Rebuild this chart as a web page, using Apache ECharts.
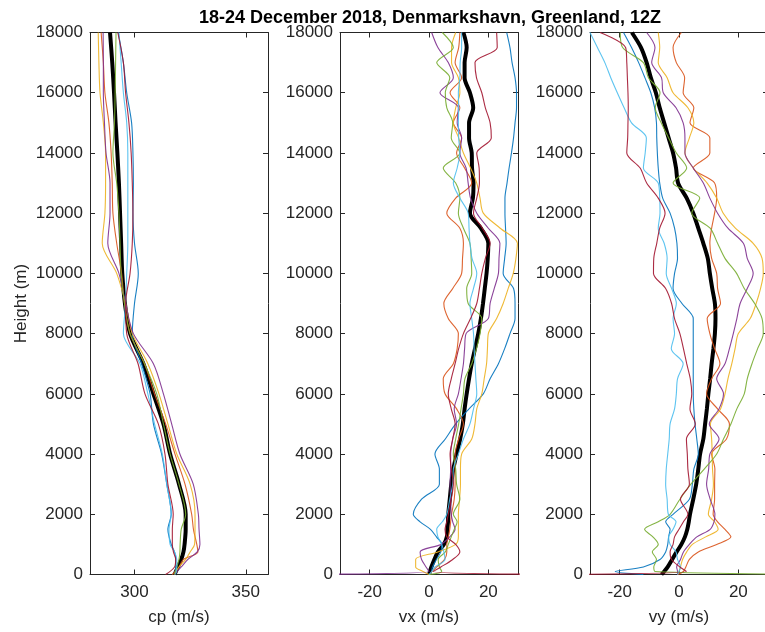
<!DOCTYPE html>
<html>
<head>
<meta charset="utf-8">
<script src="https://cdn.jsdelivr.net/npm/echarts@6/dist/echarts.min.js"></script>
<style>html,body{margin:0;padding:0;background:#fff}#c{width:765px;height:632px}</style>
</head>
<body>
<div id="c"></div>
<script>
// ---------- data ----------
const titleText = '18-24 December 2018, Denmarkshavn, Greenland, 12Z';
const colors = ['#0072BD','#D95319','#EDB120','#7E2F8E','#77AC30','#4DBEEE','#A2142F'];
const heightTicks = [0,2000,4000,6000,8000,10000,12000,14000,16000,18000];
const cpTicks = [300, 350];
const vTicks = [-20, 0, 20];

const heightsCp = [0,250,500,750,1000,1500,2000,3000,4000,5000,6000,7000,8000,9000,10000,11000,12000,13000,14000,15000,16000,17000,18000];
const cpMean      = [318,319.5,321,322,322.5,323,323,320,316,313,308.5,304,298,295.7,294.5,294,293.5,293,292.3,291.5,290.8,290,289];
const cpBlue      = [318,318.5,318.5,318,316.5,315,316.5,314.5,312.2,308.5,307,303.2,299,300,301.7,300,299.3,299.5,299.3,298.7,296.5,295,292.7];
const cpOrange    = [317,320,322,328.5,328,326.5,325.7,322.7,318.2,314,309,304.5,298,295.5,294.2,292,290.3,290,289.5,288.5,286.7,286,285];
const cpYellow    = [318,320,323,325,327,327.2,327.2,325,319,315,311,306,299,296,292,285.5,286.7,287,287,286,284.5,284,283.7];
const cpPurple    = [318,321,324,328.2,329.4,329,328.7,326.4,320.4,316.7,313,308.5,299.5,296,293,288,289,289,287.2,286.5,286,286,285.9];
const cpGreen     = [318,319,320,320.4,320.5,321,323,320,316,313,310,304.5,298,295.5,294,293.5,293,292,290.3,291,291.3,291.5,291.7];
const cpLightBlue = [318.5,319,319,318,316,315.5,316.5,314.5,312.5,309,306,302.5,295,296,296.5,297,297,297,297,296.5,295,294,293];
const cpRed       = [314,318,318.5,317.5,317,317,317.4,315,313.7,310.7,304.7,301.6,296.5,296,298,299,299.3,299,298.5,297.5,296,295,292.5];

const heightsV = [0,100,250,500,750,1000,1250,1500,1750,2000,2500,3000,3500,4000,4500,5000,5500,6000,6500,7000,7500,8000,8500,9000,9500,10000,10500,11000,11500,12000,12500,13000,13500,14000,14500,15000,15500,16000,16500,17000,17500,18000];
const vxMean      = [0,0.3,0.8,1.8,3,5,6,6.2,6.4,6.5,7,7.5,8.2,9.3,10.5,11.4,12,12.7,13.5,14.4,15.5,16.6,17.5,18.2,18.8,19.4,19.8,20,17.5,13.8,14.8,15,14.5,14.4,13.5,13.5,14.9,13.8,12,12,12.7,11.6];
const vxBlue      = [0.3,0.8,1.2,2.5,4,4.3,2.5,0.5,-3,-5.3,-2.5,3.5,3.5,2,5.5,9,13.5,18.3,20.6,23.4,25.5,27.3,29,29,28.5,25,25.5,26,25.8,25.6,25.6,26.3,27,27.8,28.5,29,29.5,29.5,29,28,27.3,26.2];
const vxOrange    = [0.3,1,2.6,5.2,6,6,6.5,7,7.3,7.6,8.5,8.8,8.8,8.8,10,11.6,9.3,5.4,4.8,8.2,9.5,9.9,6.5,5,8,11,11.3,11.6,10.4,6,9,14.4,12,9.3,11,8.2,10.4,7.1,11,8.8,10,10.4];
const vxYellow    = [0,-2,-4.5,-4.5,3,9,9.9,9.9,9.9,9.9,10.3,10.6,10.6,11,14.4,15.5,16.1,17.8,18.6,19.4,19.7,20,22.8,25,26.7,28.4,29.3,29.8,24,18.3,17.2,16.1,14,11.6,10,8.2,9,10.4,9.9,7.6,7.6,9];
const vxPurple    = [-45,0,-1,-2.5,-3,4,7,8.8,8,7.5,7.3,7.1,7.3,7.3,8,9.3,8.5,9.9,10.8,11.6,12,12.5,20,20.6,22,23.4,23.6,23.9,20,16.1,14,13.2,12.5,10.4,11,9.5,9.9,3.7,8.2,6.5,3,0.9];
const vxGreen     = [0,4.3,3.5,3.1,5.5,6.5,7.5,8.5,9.5,8.2,10.4,9.3,9,8.2,9,10,10.8,11.6,12.1,14.4,16,17.2,17.8,13.2,12.7,14.4,14.2,13.8,11.6,9.9,10.4,9,4.8,10.4,7.5,8,6,5.5,7,2.6,8.2,4.5];
const vxLightBlue = [0,1,2,5.4,5,4.3,3,2.6,4.5,6,7,8,8.2,9.9,11.6,13.8,15,16.1,15.8,15.5,15.2,15,14.4,13.8,15,16.1,14.5,13.8,13.5,13.2,10.4,8.2,9.5,10.4,10,9.9,10,9.9,10.4,10.5,11,11];
const vxRed       = [45,1.4,4,8,10.4,9,6,5.4,6,6.5,7.5,8.2,7.5,7.1,8,8.8,7.5,6.5,7.5,8.8,10,11.6,14,16.1,17,17.8,19,20.6,18,15,16.1,17,16.9,16.1,21,20.6,19,17.8,16,15.5,23,22.8];

const vyMean      = [-5.9,-5,-3.8,-2.3,-0.8,0.8,2,2.8,3.3,3.7,4.8,5.8,6.5,7.1,8.2,8.8,9.4,9.9,10.5,11,11.6,12.1,12.3,12.1,11.2,10.4,9.7,8.2,6.5,4.8,2.6,-0.3,-1,-2,-3.5,-5,-6.5,-7.8,-9.5,-10.9,-12.8,-15.9];
const vyBlue      = [-12,-21.5,-12,-6.4,-4.5,-3.8,-3.5,-3,-4.5,-2,3.5,4.5,5,6.5,6,5.4,5,4.8,4.8,4.8,4.8,4.8,4.8,1,-2,-1.5,-0.5,-0.7,-1.5,-3,-5.5,-6.5,-7,-7.3,-7.5,-7.6,-8.2,-9.5,-11.5,-13.6,-16,-18.7];
const vyOrange    = [-0.5,1.5,2.3,3.5,6.5,12.7,17.5,15.5,13,11.5,12,12,12.1,11,16,17,13,9.3,11,13.8,12,10.4,9.5,14,13,12.7,11,10.4,11,12,12.7,12,4.8,10.4,10.4,3.7,5,1.4,1.9,-0.9,-2,0.8];
const vyYellow    = [-0.5,0,0.5,1.2,2.6,4.5,9,13.2,12,9.9,11,11.6,11.3,11.2,11,10.6,14,15.5,16.5,17.8,18.9,20,24,26,27.5,28.4,28,25,19,14.9,12.7,9.5,4.8,2,3.5,5,3,-2,-4,-7,-6.5,-7];
const vyPurple    = [-0.5,-0.5,-0.8,0.5,1.5,3.5,6,10.5,11.8,12.1,10.5,9.3,10,10.4,13.5,10.2,13.5,15,12.7,15.5,17,18.3,19.5,20.6,23,25,23,21.7,16.5,13,10.4,8.2,4.8,2,2,1.4,-1,-5.3,-5.9,-9.2,-8.1,-10.9];
const vyGreen     = [45,-8,-8.5,-7.6,-9,-7,-8.8,-11.6,-7,-3,0.3,4,8.5,12.7,15,17.5,19.5,22,23,24.6,26.5,28.4,28,25.5,22,19.4,15.5,13,10.5,4.3,7,-2,2.6,-0.9,-3.5,-6,-8,-6.4,-10.3,-12,-19,-19.8];
const vyLightBlue = [-0.5,0,0.5,-0.5,-1,-3,-3.5,-2,-1,-3.6,-4,-4.5,-4.3,-3.8,-3.3,-3,-1.5,-0.9,-0.5,1.4,-2.6,-1.5,-2,-0.9,-2.5,-4.3,-4,-5,-7,-6.4,-6.5,-7,-12,-11.4,-11,-16,-18.5,-20.8,-23,-25,-27.5,-30];
const vyRed       = [-45,2.5,0.3,-2.5,-3,-2,-1.5,0,1.5,3,0.5,3.5,3,2.8,2.5,5.5,3.7,4.3,3.8,2.6,1.5,0.3,-1.5,-2.5,-4.5,-8.6,-8.5,-7.5,-6.5,-4.7,-7,-10.9,-13.1,-17.6,-17.3,-17.2,-17.1,-17.2,-17.4,-17.6,-18,-26.6];

// ---------- chart ----------
const FONT = 'Liberation Sans, Arial, Helvetica, sans-serif';
const AX = '#262626';
const gridLefts = [90, 340, 590];
const panels = [
  {name:'cp (m/s)', min:280, max:360, ticks:cpTicks, heights:heightsCp, mean:cpMean,
   lines:[cpBlue,cpOrange,cpYellow,cpPurple,cpGreen,cpLightBlue,cpRed]},
  {name:'vx (m/s)', min:-30, max:30, ticks:vTicks, heights:heightsV, mean:vxMean,
   lines:[vxBlue,vxOrange,vxYellow,vxPurple,vxGreen,vxLightBlue,vxRed]},
  {name:'vy (m/s)', min:-30, max:30, ticks:vTicks, heights:heightsV, mean:vyMean,
   lines:[vyBlue,vyOrange,vyYellow,vyPurple,vyGreen,vyLightBlue,vyRed]}
];

const grid = [], xAxis = [], yAxis = [], series = [];
panels.forEach((p, i) => {
  grid.push({left: gridLefts[i], top: 32.5, width: 178, height: 542, containLabel: false, outerBoundsMode: 'none'});
  const lineStyle = {color: AX, width: 1};
  xAxis.push({
    gridIndex: i, type: 'value', min: p.min, max: p.max, position: 'bottom',
    axisLine: {show: true, onZero: false, lineStyle},
    axisTick: {show: true, inside: true, length: 5, customValues: p.ticks, lineStyle},
    axisLabel: {customValues: p.ticks, color: AX, fontSize: 17, fontFamily: FONT, margin: 9,
                formatter: v => String(v)},
    splitLine: {show: false},
    name: p.name, nameLocation: 'middle', nameGap: 34,
    nameTextStyle: {color: AX, fontSize: 17, fontFamily: FONT}
  });
  xAxis.push({
    gridIndex: i, type: 'value', min: p.min, max: p.max, position: 'top',
    axisLine: {show: true, onZero: false, lineStyle},
    axisTick: {show: true, inside: true, length: 5, customValues: p.ticks, lineStyle},
    axisLabel: {show: false}, splitLine: {show: false}
  });
  const yl = {
    gridIndex: i, type: 'value', min: 0, max: 18000, position: 'left',
    axisLine: {show: true, onZero: false, lineStyle},
    axisTick: {show: true, inside: true, length: 5, customValues: heightTicks, lineStyle},
    axisLabel: {customValues: heightTicks, color: AX, fontSize: 17, fontFamily: FONT, margin: 7,
                formatter: v => String(v)},
    splitLine: {show: false}
  };
  if (i === 0) {
    yl.name = 'Height (m)'; yl.nameLocation = 'middle'; yl.nameGap = 60;
    yl.nameTextStyle = {color: AX, fontSize: 17, fontFamily: FONT};
  }
  yAxis.push(yl);
  yAxis.push({
    gridIndex: i, type: 'value', min: 0, max: 18000, position: 'right',
    axisLine: {show: true, onZero: false, lineStyle},
    axisTick: {show: true, inside: true, length: 5, customValues: heightTicks, lineStyle},
    axisLabel: {show: false}, splitLine: {show: false}
  });
  const xi = i * 2, yi = i * 2;
  series.push({
    type: 'line', xAxisIndex: xi, yAxisIndex: yi, showSymbol: false, silent: true, clip: true,
    smooth: 0.3,
    data: p.heights.map((h, k) => [p.mean[k], h]),
    lineStyle: {color: '#000', width: 4}, z: 2
  });
  p.lines.forEach((vals, j) => {
    series.push({
      type: 'line', xAxisIndex: xi, yAxisIndex: yi, showSymbol: false, silent: true, clip: true,
      smooth: 0.3,
      data: p.heights.map((h, k) => [vals[k], h]),
      lineStyle: {color: colors[j], width: 1.1, opacity: 0.9}, z: 3
    });
  });
});

const chart = echarts.init(document.getElementById('c'), null, {renderer: 'canvas'});
chart.setOption({
  animation: false,
  backgroundColor: '#fff',
  grid, xAxis, yAxis, series,
  graphic: [{
    type: 'text', x: 430, y: 18,
    style: {text: titleText, textAlign: 'center', textVerticalAlign: 'middle',
            font: 'bold 18px ' + FONT, fill: '#000'}
  }]
});
</script>
</body>
</html>
